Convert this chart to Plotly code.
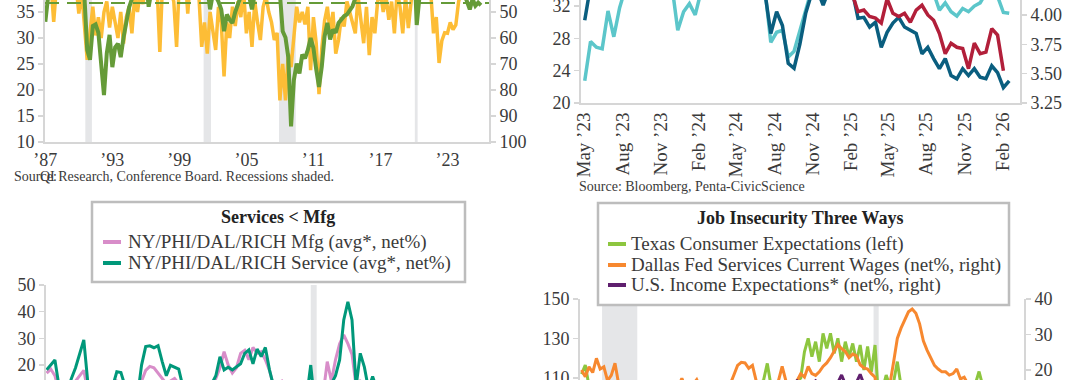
import plotly.graph_objects as go
import pandas as pd

# ---------------- DATA ----------------
# Top-left: quarterly, 1987Q1 onward
TL_START = 1987.0
tl_yellow = [
    39.5, 41, 40.5, 33.1,  40, 42, 39, 41,  42, 38.5, 41, 40,  34.7, 39, 32, 25.8,
    31, 36, 30.5, 34,  30.0, 35, 37, 32,  36, 33, 30.0, 35,  28.9, 34, 36, 30.9,
    38, 35, 39, 36.5,  41, 38, 42, 39,  40, 27.3, 41, 38.5,  42, 39, 37, 28.3,
    41, 38, 43, 34.7,  42, 39, 41, 38,  28.3, 33, 27.0, 35,  31, 27.7, 36, 33,
    22.6, 33, 30, 36,  32.3, 37, 34, 39,  30.9, 35, 28.3, 37,  33, 29.6, 36, 38,
    35, 33, 29.6, 31,  18.0, 25, 18.0, 27,  24.4, 30, 36, 33,  35, 32.6, 36, 23.8,
    34, 29, 19.2, 28,  33.3, 36, 31, 35,  27.0, 29.6, 34, 32.2,  37, 35, 33, 30.9,
    38, 34, 29.0, 36,  26.7, 34, 30.9, 37,  39, 35, 38, 33.5,  37, 30.9, 39, 36,
    30.9, 38, 31.9, 37,  41, 39, 42, 40,  43, 41, 39, 30.9,  34, 25.2, 29.5, 31,
    30.9, 33, 31.6, 32.5,  37, 39, 41, 38,  40, 39.5, 41, 40,
]
# right axis (inverted)
tl_green = [
    53.8, 44, 42, 40,  38, 37, 36, 36,  35, 36, 37, 38,  39, 38, 44, 64.6,
    68.4, 55.4, 54.8, 58,  68.4, 82, 66, 58.8,  71.2, 63.6, 62.2, 67.4,  59.8, 53.4, 48.2, 45,
    43, 41, 39, 38,  37, 48, 38, 36,  35, 34, 33, 32,  31, 30, 30, 29,
    28, 28, 27, 26,  26, 25, 26, 27,  30, 34, 40, 49,  43, 44, 46, 49,
    57.4, 51, 53, 54.2,  50, 46.4, 44, 43,  42, 44, 49, 43,  40, 38, 36, 36,
    36, 37, 38, 41,  43, 57.4, 59.8, 67.4,  94, 76.2, 69.8, 73.6,  66.4, 67.8, 64.6, 60,
    63.8, 72, 78.8, 71,  59.4, 54.2, 60.6, 56.8,  58, 54.2, 53, 51.6,  51, 49, 47.8, 44.8,
    41, 40, 39, 38,  37, 36, 35, 34,  33, 32, 30, 29,  28, 27, 26, 26,
    25, 25, 26, 25,  28, 55, 44, 40,  36, 30, 26, 24,  22, 22, 23, 24,
    26, 28, 30, 32,  36, 40, 43, 45,  49, 45, 47.6, 46.4,  47.4,
]
tl_threshold = 36.7
tl_recessions = [(1990.58, 1991.17), (2001.17, 2001.83), (2007.92, 2009.42), (2020.08, 2020.33)]
tl_tickvals = [1987, 1993, 1999, 2005, 2011, 2017, 2023]
tl_ticktext = ["\u201987", "\u201993", "\u201999", "\u201905", "\u201911", "\u201917", "\u201923"]

# Top-right: bi-weekly from 2 May 2023
TR_START = "2023-05-02"
tr_light = [
    22.75, 27.6, 26.9, 26.7, 31.4, 28.2, 31.8, 34.2, 34.8, 35.5, 34.9, 35.8, 35.1, 34.6, 35.3, 34.5,
    29.0, 31.3, 32.3, 30.9, 33.8, 35.0, 34.2, 35.5, 34.7, 36.0, 35.1, 34.6, 35.4, 34.9, 35.2, 34.0,
    27.5, 28.75, 29.0, 25.7, 26.4, 28.75, 31.0, 34.0,
    35.0, 34.3, 35.8, 36.2, 35.5, 34.8, 35.9, 36.4, 35.2, 34.6, 35.7, 35.0, 34.4, 35.3, 34.1, 35.0,
    34.2, 33.9, 34.5, 34.0, 33.6,
    31.5, 32.4, 31.3, 30.75, 31.7, 31.3, 32.0, 32.4, 33.6, 34.0, 33.2, 31.2, 31.1,
]
tr_dark = [
    30.25, 34.5, 35.2, 35.9, 36.1, 35.4, 34.8, 35.6, 36.3, 35.0, 34.7, 35.8, 36.2, 35.5, 34.9, 35.3,
    36.0, 35.1, 34.6, 35.7, 36.4, 35.2, 34.8, 35.9, 35.3, 34.5, 35.0, 35.6, 34.9, 35.4, 34.2, 33.6,
    28.6, 31.3, 29.6, 24.9, 24.3, 27.3, 31.1, 33.5, 34.0, 32.1, 34.0, 35.0, 35.5, 34.8, 33.9,
    30.5, 30.6, 29.4, 30.0, 26.9, 28.75, 29.9, 30.6, 29.4, 29.0, 28.6, 26.1, 26.9, 25.5,
    24.25, 25.5, 23.4, 23.0, 24.25, 23.4, 24.25, 23.2, 23.0, 24.6, 23.75, 21.9, 22.75,
]
tr_red = [None] * 46 + [
    33.5, 31.3, 31.5, 30.7, 30.5, 29.9, 32.9, 31.1, 30.7, 31.1, 30.0, 31.5, 32.1, 30.9, 30.25,
    28.6, 26.1, 27.4, 26.9, 26.75, 24.25, 27.4, 26.1, 26.3, 29.2, 28.4, 24.0,
] + [None]
tr_tickdates = ["2023-05-01", "2023-08-01", "2023-11-01", "2024-02-01", "2024-05-01", "2024-08-01",
                "2024-11-01", "2025-02-01", "2025-05-01", "2025-08-01", "2025-11-01", "2026-02-01"]
tr_ticktext = ["May \u201923", "Aug \u201923", "Nov \u201923", "Feb \u201924", "May \u201924", "Aug \u201924",
               "Nov \u201924", "Feb \u201925", "May \u201925", "Aug \u201925", "Nov \u201925", "Feb \u201926"]

# Bottom-left: quarterly from 2004
BL_START = 2004.0
bl_mfg = [
    17, 18.5, 16, 10,  8, 9, 12, 14,  16, 18, 10, 7,  6, 5, 6, 8,  11, 14, 13, 9,  3, 0, 6, 14,
    18, 19.5, 19, 17,  15, 13, 14, 15,  13, 10, 9, 8,  7, 9, 10, 11,  12, 15, 19, 25.0,  20, 17, 19, 24.4,
    25.5, 22, 26.6, 24.4,  25, 22, 18, 12,  13, 14, 11, 10,  9, 7, 6, 7,  12, 3, 2, 9,  21.3, 14, 22, 28,
    31.3, 28, 24, 12,  14, 13, 10, 9,  9, 8, 10, 9,  8, 10, 9, 8,
]
bl_service = [
    18.2, 20, 21.9, 12,  9, 10, 15, 19,  24, 29.4, 13, 8,  6, 5, 7, 9,  12, 17.5, 17.2, 11,  5, 2, 8, 20,
    26.9, 27.2, 26.5, 27.3,  21.3, 16, 19.9, 19.2,  18.5, 12, 10, 9,  8, 10, 11, 12,  13, 16, 23.1, 18.2,
    19.2, 18.2, 19.5, 20.5,  24.4, 25.7, 20.5, 26.0,  23.2, 26.6, 18.2, 12,  11, 12, 10, 9,  8, 7, 6, 8,
    20, 5, 3, 8,  10, 13, 16, 21.9,  36.9, 43.7, 36.9, 12,  24.4, 19.2, 11, 15.7,  11, 10, 12, 11,
    10, 12, 11, 10,
]
bl_recessions = [(2020.0, 2020.36)]

# Bottom-right: bi-monthly from 2007
BR_START = 2007.0
br_texas = [
    112, 116.6, 106, 104, 102, 100,  97, 94, 92, 90, 88, 87,  86, 88, 90, 92, 94, 95,
    96, 97, 98, 97, 99, 100,  99, 98, 97, 99, 100, 101,  102, 101, 103, 102, 104, 103,
    104, 103, 105, 104, 106, 105,  106, 107, 105, 107, 106, 108,  107, 109, 117.4, 106, 107, 105,
    104, 106, 105, 107, 108, 110,  123.3, 130.1, 120.8, 128.4, 118.3, 132.6,
    125, 132.6, 122.5, 130.1, 118.3, 128.4,  120.8, 127.5, 118.3, 126.7, 114, 126,
    113, 126.7, 98, 104, 111.5, 106,  108, 118.3, 106, 104, 103, 102,  98, 96, 95, 97, 94, 96,
    98, 100, 99, 101, 100, 102,  103, 102, 104, 105, 107, 113.3,  106, 104, 103, 101, 102, 100,
]
br_wages = [
    20.0, 18.1, 20.9, 19.3, 23.3, 20.3,  20.9, 17.0, 18.5, 21.9, 16.0, 13.0,  10, 7, 5, 4, 3, 5,
    6, 8, 9, 11, 12, 10,  12, 13, 15, 17.7, 15, 14,  16, 17.3, 15, 14, 13, 15,
    14, 15, 16, 15, 16, 18.6,  21.3, 22.2, 22.0, 20.5, 21.3, 17.0,  15, 16, 14, 15, 16, 17,
    21, 17, 15, 16, 17, 19,  18, 21, 19, 18.5, 19.5, 21,  22, 23.5, 25.2, 27.2, 26, 25.2,
    23.5, 24.5, 24, 21.5, 20.6, 20.3,  19, 18, 10, 12, 14, 16,  22.3, 28.9, 31.8, 34.1, 36.4, 37.2,
    36.0, 33.0, 28.2, 25.6, 23.5, 21.3,  20.3, 19.5, 19.5, 18.6, 19.0, 20.3,  17.5, 18, 16, 15, 16, 14,
    15, 13, 14, 12, 13, 12,
]
br_income = [
    10, 11, 10, 12, 11, 10,  9, 8, 7, 6, 5, 6,  5, 4, 5, 6, 7, 8,  9, 10, 9, 11, 10, 11,
    12, 11, 12, 13, 12, 11,  12, 13, 12, 13, 14, 13,  13, 14, 13, 14, 15, 14,  14, 15, 14, 15, 16, 15,
    15, 14, 15, 16, 15, 16,  15, 16, 15, 16, 17, 16,  16, 15, 16, 17, 16, 16.5,  16, 16.5, 16, 16.5, 18.6, 16,
    16.5, 16, 16.5, 18.8, 16, 15,  14, 8, 6, 10, 12, 14,  15, 14, 12, 10, 9, 8,  7, 6, 7, 8, 9, 10,
    11, 12, 11, 12, 13, 12,  13, 12, 13, 12, 11, 12,  11, 10, 9, 8, 9, 8,
]
br_recessions = [(2007.92, 2009.5), (2020.1, 2020.33)]

# ---------------- STYLE ----------------
W, H = 1080, 380
FONT = "Liberation Serif"
TXT = "#3A3A3A"
AX = "#D6D6D6"
SHADE = "#E5E6E8"
C_YEL, C_GRN = "#FDBD36", "#659B38"
C_LT, C_DT, C_RED = "#5CC6CA", "#0A5E7F", "#B21F3A"
C_PINK, C_SVC = "#D88DC9", "#00987A"
C_TX, C_ORG, C_PUR = "#8DC63F", "#F7882F", "#5F1F6E"


def px(x):
    return x / W


def py(y):
    return 1 - y / H


tl_x = [TL_START + i / 4 for i in range(len(tl_yellow))]
tl_xg = [TL_START + i / 4 for i in range(len(tl_green))]
tr_x = pd.date_range(TR_START, periods=len(tr_light), freq="14D")
bl_x = [BL_START + i / 4 for i in range(len(bl_service))]
br_x = [BR_START + i / 6 for i in range(len(br_texas))]

fig = go.Figure()
ln = lambda c, w: dict(color=c, width=w)
fig.add_trace(go.Scatter(x=tl_x, y=tl_yellow, mode="lines", line=ln(C_YEL, 3.5), xaxis="x", yaxis="y"))
fig.add_trace(go.Scatter(x=tl_xg, y=tl_green, mode="lines", line=ln(C_GRN, 4), xaxis="x", yaxis="y2"))

fig.add_trace(go.Scatter(x=tr_x, y=tr_light, mode="lines", line=ln(C_LT, 3.5), xaxis="x2", yaxis="y3"))
fig.add_trace(go.Scatter(x=tr_x, y=tr_dark, mode="lines", line=ln(C_DT, 3.5), xaxis="x2", yaxis="y3"))
fig.add_trace(go.Scatter(x=tr_x, y=tr_red, mode="lines", line=ln(C_RED, 3.5), xaxis="x2", yaxis="y3"))
fig.add_trace(go.Scatter(x=[], y=[], mode="lines", xaxis="x2", yaxis="y4"))

fig.add_trace(go.Scatter(x=bl_x, y=bl_mfg, mode="lines", line=ln(C_PINK, 3), xaxis="x3", yaxis="y5"))
fig.add_trace(go.Scatter(x=bl_x, y=bl_service, mode="lines", line=ln(C_SVC, 3), xaxis="x3", yaxis="y5"))

fig.add_trace(go.Scatter(x=br_x, y=br_texas, mode="lines", line=ln(C_TX, 3), xaxis="x4", yaxis="y6"))
fig.add_trace(go.Scatter(x=br_x, y=br_wages, mode="lines", line=ln(C_ORG, 3), xaxis="x4", yaxis="y7"))
fig.add_trace(go.Scatter(x=br_x, y=br_income, mode="lines", line=ln(C_PUR, 3), xaxis="x4", yaxis="y7"))

tickfont = dict(family=FONT, size=18, color=TXT)
base = dict(showgrid=False, zeroline=False, automargin=False, tickfont=tickfont,
            showline=True, linecolor=AX, linewidth=2, ticklabeloverflow="allow")
yt = dict(ticks="outside", ticklen=5, tickcolor=AX, tickwidth=1.5)

fig.update_layout(
    width=W, height=H, margin=dict(l=0, r=0, t=0, b=0),
    template="none", paper_bgcolor="white", plot_bgcolor="rgba(0,0,0,0)",
    showlegend=False, font=dict(family=FONT, color=TXT), hovermode=False,
    # top-left
    xaxis=dict(base, domain=[px(45), px(489)], anchor="y", range=[1986.97, 2026.72],
               tickmode="array", tickvals=tl_tickvals, ticktext=tl_ticktext, ticks=""),
    yaxis=dict(base, **yt, domain=[py(142), 1], anchor="x", range=[10, 37.3],
               tickmode="array", tickvals=[10, 15, 20, 25, 30, 35]),
    yaxis2=dict(base, **yt, overlaying="y", side="right", anchor="x", range=[100, 45.4],
                tickmode="array", tickvals=[50, 60, 70, 80, 90, 100]),
    # top-right
    xaxis2=dict(base, domain=[px(581), px(1020)], anchor="y3", type="date",
                range=["2023-04-23", "2026-03-15"], tickmode="array",
                tickvals=tr_tickdates, ticktext=tr_ticktext, tickangle=-90,
                tickfont=dict(family=FONT, size=19, color=TXT)),
    yaxis3=dict(base, **yt, domain=[py(103), 1], anchor="x2", range=[20, 32.75],
                tickmode="array", tickvals=[20, 24, 28, 32]),
    yaxis4=dict(base, **yt, overlaying="y3", side="right", anchor="x2", range=[3.25, 4.129],
                tickmode="array", tickvals=[3.25, 3.5, 3.75, 4.0],
                ticktext=["3.25", "3.50", "3.75", "4.00"]),
    # bottom-left
    xaxis3=dict(base, domain=[px(46), px(489)], anchor="y5", range=[2003.96, 2030.8],
                showline=False, showticklabels=False),
    yaxis5=dict(base, **yt, domain=[0, py(285)], anchor="x3", range=[14.4, 50],
                tickmode="array", tickvals=[20, 30, 40, 50]),
    # bottom-right
    xaxis4=dict(base, domain=[px(580), px(1024)], anchor="y6", range=[2006.93, 2026.85],
                showline=False, showticklabels=False),
    yaxis6=dict(base, **yt, domain=[0, py(299)], anchor="x4", range=[109, 150],
                tickmode="array", tickvals=[110, 130, 150]),
    yaxis7=dict(base, **yt, overlaying="y6", side="right", anchor="x4", range=[17.2, 40],
                tickmode="array", tickvals=[20, 30, 40]),
)

shapes = []
for (a, b) in tl_recessions:
    shapes.append(dict(type="rect", xref="x", yref="y domain", x0=a, x1=b, y0=0, y1=1,
                       fillcolor=SHADE, line=dict(width=0), layer="below"))
for (a, b) in bl_recessions:
    shapes.append(dict(type="rect", xref="x3", yref="y5 domain", x0=a, x1=b, y0=0, y1=1,
                       fillcolor=SHADE, line=dict(width=0), layer="below"))
for (a, b) in br_recessions:
    shapes.append(dict(type="rect", xref="x4", yref="y6 domain", x0=a, x1=b, y0=0, y1=1,
                       fillcolor=SHADE, line=dict(width=0), layer="below"))
shapes.append(dict(type="line", xref="x domain", yref="y", x0=0, x1=1, y0=tl_threshold, y1=tl_threshold,
                   line=dict(color=C_GRN, width=2, dash="14px,8px"), layer="above"))

# legend boxes (bottom panels)
shapes.append(dict(type="rect", xref="paper", yref="paper", x0=px(92), x1=px(465), y0=py(282), y1=py(202),
                   fillcolor="white", line=dict(color="#BDBDBD", width=2.5), layer="above"))
shapes.append(dict(type="rect", xref="paper", yref="paper", x0=px(598), x1=px(1009), y0=py(305), y1=py(203),
                   fillcolor="white", line=dict(color="#BDBDBD", width=2.5), layer="above"))

annotations = []


def legend_item(x_sym, x_txt, y, color, text):
    shapes.append(dict(type="line", xref="paper", yref="paper", x0=px(x_sym), x1=px(x_sym + 18),
                       y0=py(y), y1=py(y), line=dict(color=color, width=4), layer="above"))
    annotations.append(dict(x=px(x_txt), y=py(y), xref="paper", yref="paper", text=text,
                            showarrow=False, xanchor="left", yanchor="middle",
                            font=dict(family=FONT, size=19, color=TXT)))


annotations.append(dict(x=px(278), y=py(217), xref="paper", yref="paper", text="<b>Services &lt; Mfg</b>",
                        showarrow=False, xanchor="center", yanchor="middle",
                        font=dict(family=FONT, size=18, color="#222222")))
legend_item(103, 126, 242, C_PINK, "NY/PHI/DAL/RICH Mfg (avg*, net%)")
legend_item(103, 126, 263, C_SVC, "NY/PHI/DAL/RICH Service (avg*, net%)")

annotations.append(dict(x=px(800), y=py(218), xref="paper", yref="paper", text="<b>Job Insecurity Three Ways</b>",
                        showarrow=False, xanchor="center", yanchor="middle",
                        font=dict(family=FONT, size=18, color="#222222")))
legend_item(608, 629, 244, C_TX, "Texas Consumer Expectations (left)")
legend_item(608, 629, 265, C_ORG, "Dallas Fed Services Current Wages (net%, right)")
legend_item(608, 629, 285, C_PUR, "U.S. Income Expectations* (net%, right)")

src_font = dict(family=FONT, size=14, color=TXT)
annotations.append(dict(x=px(12), y=py(176), xref="paper", yref="paper", text="Source:",
                        showarrow=False, xanchor="left", yanchor="middle", font=src_font))
annotations.append(dict(x=px(38), y=py(176), xref="paper", yref="paper",
                        text="QI Research, Conference Board. Recessions shaded.",
                        showarrow=False, xanchor="left", yanchor="middle", font=src_font))
annotations.append(dict(x=px(577), y=py(186), xref="paper", yref="paper",
                        text="Source: Bloomberg, Penta-CivicScience",
                        showarrow=False, xanchor="left", yanchor="middle", font=src_font))

fig.update_layout(shapes=shapes, annotations=annotations)
fig.write_html("out.html", config={"displayModeBar": False, "staticPlot": True},
               post_script="document.body.style.margin='0px';")
